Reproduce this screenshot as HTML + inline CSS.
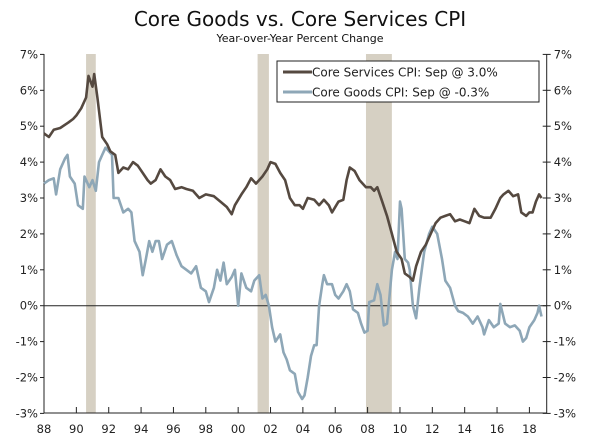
<!DOCTYPE html>
<html><head><meta charset="utf-8"><style>
body{margin:0;background:#fff;}
svg{display:block;font-family:"DejaVu Sans","Liberation Sans",sans-serif;}
</style></head><body>
<svg id="c" width="600" height="448">
<text x="300" y="26" text-anchor="middle" font-size="20" fill="#111">Core Goods vs. Core Services CPI</text>
<text x="300" y="42" text-anchor="middle" font-size="11" fill="#111">Year-over-Year Percent Change</text>
</svg>
<script>
const recessions=[[1990.6,1991.2],[2001.2,2001.9],[2007.9,2009.5]];
const yTicks=[-3,-2,-1,0,1,2,3,4,5,6,7];
const xTickYears=[1988,1990,1992,1994,1996,1998,2000,2002,2004,2006,2008,2010,2012,2014,2016,2018];
const xTickLabels=["88","90","92","94","96","98","00","02","04","06","08","10","12","14","16","18"];
const servYears=[1988.0,1988.3,1988.6,1989,1989.5,1989.8,1990,1990.3,1990.6,1990.75,1991.0,1991.1,1991.3,1991.6,1991.9,1992.1,1992.4,1992.6,1992.9,1993.2,1993.5,1993.8,1994.1,1994.4,1994.6,1994.9,1995.2,1995.5,1995.8,1996.1,1996.5,1996.8,1997.2,1997.6,1998,1998.5,1998.9,1999.3,1999.6,1999.8,2000.2,2000.5,2000.8,2001.1,2001.5,2001.8,2002.0,2002.3,2002.6,2002.9,2003.2,2003.5,2003.8,2004.0,2004.3,2004.7,2005,2005.3,2005.6,2005.8,2006.2,2006.5,2006.7,2006.9,2007.2,2007.5,2007.9,2008.2,2008.4,2008.6,2008.9,2009.2,2009.5,2009.8,2010.1,2010.3,2010.6,2010.8,2011.0,2011.3,2011.6,2011.9,2012.2,2012.5,2012.8,2013.1,2013.4,2013.7,2014.0,2014.3,2014.6,2014.9,2015.2,2015.6,2015.9,2016.2,2016.4,2016.7,2017.0,2017.3,2017.5,2017.8,2018.0,2018.2,2018.4,2018.6,2018.75];
const servValues=[4.8,4.7,4.9,4.95,5.1,5.2,5.3,5.5,5.8,6.4,6.1,6.45,5.8,4.7,4.5,4.3,4.2,3.7,3.85,3.8,4.0,3.9,3.7,3.5,3.4,3.5,3.8,3.6,3.5,3.25,3.3,3.25,3.2,3.0,3.1,3.05,2.9,2.75,2.55,2.8,3.1,3.3,3.55,3.4,3.6,3.8,4.0,3.95,3.7,3.5,3.0,2.8,2.8,2.7,3.0,2.95,2.8,2.95,2.8,2.6,2.9,2.95,3.5,3.85,3.75,3.5,3.3,3.3,3.2,3.3,2.9,2.5,2.0,1.5,1.3,0.9,0.8,0.7,1.1,1.5,1.7,2.0,2.3,2.45,2.5,2.55,2.35,2.4,2.35,2.3,2.7,2.5,2.45,2.45,2.7,3.0,3.1,3.2,3.05,3.1,2.6,2.5,2.6,2.6,2.9,3.1,3.0];
const goodYears=[1988.0,1988.3,1988.6,1988.75,1989.0,1989.3,1989.45,1989.6,1989.9,1990.1,1990.4,1990.5,1990.8,1991.0,1991.2,1991.4,1991.6,1991.8,1992.0,1992.2,1992.3,1992.6,1992.9,1993.2,1993.4,1993.6,1993.9,1994.1,1994.3,1994.5,1994.7,1994.9,1995.1,1995.3,1995.6,1995.9,1996.2,1996.5,1996.8,1997.1,1997.4,1997.7,1998.0,1998.2,1998.5,1998.7,1998.9,1999.1,1999.3,1999.6,1999.8,2000.0,2000.2,2000.5,2000.8,2001.0,2001.3,2001.5,2001.7,2001.9,2002.1,2002.3,2002.6,2002.8,2003.0,2003.2,2003.5,2003.7,2003.95,2004.1,2004.3,2004.5,2004.7,2004.85,2005.0,2005.2,2005.3,2005.5,2005.8,2006.0,2006.2,2006.5,2006.7,2006.9,2007.1,2007.4,2007.6,2007.8,2008.0,2008.1,2008.4,2008.6,2008.8,2009.0,2009.2,2009.5,2009.7,2009.85,2010.0,2010.1,2010.3,2010.5,2010.6,2010.8,2011.0,2011.2,2011.5,2011.8,2012.0,2012.3,2012.6,2012.8,2013.1,2013.4,2013.6,2013.9,2014.2,2014.5,2014.8,2015.1,2015.2,2015.5,2015.8,2016.1,2016.2,2016.5,2016.8,2017.1,2017.4,2017.6,2017.8,2018.0,2018.3,2018.5,2018.6,2018.75];
const goodValues=[3.4,3.5,3.55,3.1,3.8,4.1,4.2,3.6,3.4,2.8,2.7,3.6,3.3,3.5,3.2,4.0,4.2,4.4,4.3,4.2,3.0,3.0,2.6,2.7,2.6,1.8,1.5,0.85,1.3,1.8,1.5,1.8,1.8,1.3,1.7,1.8,1.4,1.1,1.0,0.9,1.1,0.5,0.4,0.1,0.5,1.0,0.7,1.2,0.6,0.8,1.0,0.0,0.9,0.5,0.4,0.7,0.85,0.2,0.3,0.0,-0.6,-1.0,-0.8,-1.3,-1.5,-1.8,-1.9,-2.4,-2.6,-2.5,-2.0,-1.4,-1.1,-1.1,0.0,0.6,0.85,0.6,0.6,0.3,0.2,0.4,0.6,0.4,-0.1,-0.2,-0.5,-0.75,-0.7,0.1,0.15,0.6,0.3,-0.55,-0.5,1.0,1.5,1.3,2.9,2.7,1.3,1.2,1.0,0.0,-0.35,0.5,1.5,2.0,2.2,2.0,1.3,0.7,0.5,0.0,-0.15,-0.2,-0.3,-0.5,-0.3,-0.6,-0.8,-0.4,-0.6,-0.5,0.05,-0.5,-0.6,-0.55,-0.7,-1.0,-0.9,-0.6,-0.4,-0.2,0.0,-0.3];

const L=44,R=546.7,T=54,B=413;
const x=yr=>L+(yr-1988)*16.18;
const y=v=>305.7-v*35.9;
const svg=document.getElementById('c');
const NS='http://www.w3.org/2000/svg';
function mk(tag,attrs,parent){const e=document.createElementNS(NS,tag);for(const k in attrs)e.setAttribute(k,attrs[k]);(parent||svg).appendChild(e);return e;}

recessions.forEach(r=>{
  const e=mk('rect',{x:x(r[0]),y:T,width:x(r[1])-x(r[0]),height:B-T,fill:'#d6d0c3'});
  
  
});
let e=mk('line',{x1:L,x2:R,y1:y(0),y2:y(0),stroke:'#222','stroke-width':1});


e=mk('path',{d:`M${L},${T}V${B}H${R}V${T}`,fill:'none',stroke:'#222','stroke-width':1});


yTicks.forEach(v=>{
  mk('line',{x1:L-4,x2:L,y1:y(v),y2:y(v),stroke:'#222'});
  mk('line',{x1:R-4,x2:R+4,y1:y(v),y2:y(v),stroke:'#222'});
  let t=mk('text',{x:L-6,y:y(v)+4,'text-anchor':'end','font-size':11.5,fill:'#222'});t.textContent=v+'%';
  
  
  t=mk('text',{x:R+7,y:y(v)+4,'font-size':11.5,fill:'#222'});t.textContent=v+'%';
  
  
});
xTickYears.forEach((yr,i)=>{
  mk('line',{x1:x(yr),x2:x(yr),y1:B,y2:B-6,stroke:'#222'});
  const t=mk('text',{x:x(yr),y:B+20,'text-anchor':'middle','font-size':11.5,fill:'#222'});t.textContent=xTickLabels[i];
  
  
});
function line(xs,vs,col,name){
  const d=xs.map((yr,i)=>(i?'L':'M')+x(yr).toFixed(1)+','+y(vs[i]).toFixed(1)).join('');
  const p=mk('path',{d:d,fill:'none',stroke:col,'stroke-width':2.6,'stroke-linejoin':'round'});
  
  
}
line(goodYears,goodValues,'#8ea7b7','core-goods-line');
line(servYears,servValues,'#554940','core-services-line');
// legend
const lg=mk('g',{});


mk('rect',{x:277,y:61,width:262,height:41,fill:'#fff',stroke:'#222'},lg);
mk('line',{x1:283,x2:312,y1:72,y2:72,stroke:'#554940','stroke-width':3},lg);
mk('line',{x1:283,x2:312,y1:92,y2:92,stroke:'#8ea7b7','stroke-width':3},lg);
let t=mk('text',{x:312,y:76.5,'font-size':12,fill:'#222'},lg);t.textContent='Core Services CPI: Sep @ 3.0%';


t=mk('text',{x:312,y:96.5,'font-size':12,fill:'#222'},lg);t.textContent='Core Goods CPI: Sep @ -0.3%';


</script>
</body></html>
